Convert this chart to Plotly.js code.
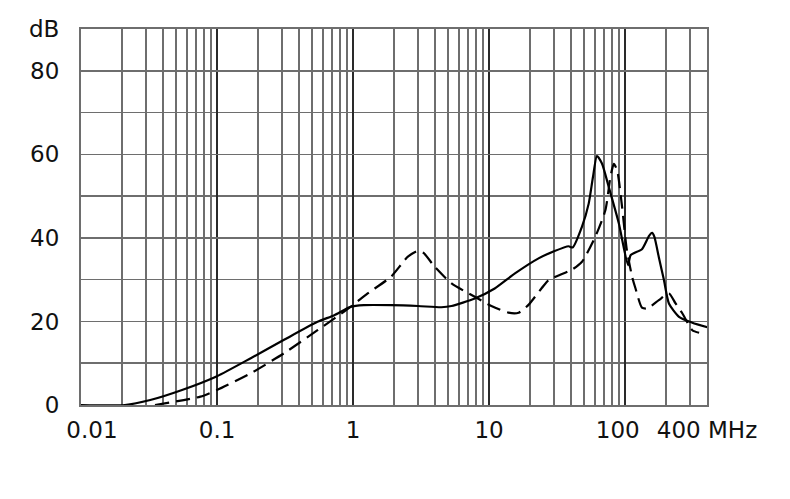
<!DOCTYPE html>
<html>
<head>
<meta charset="utf-8">
<script src="https://cdn.plot.ly/plotly-3.0.1.min.js"></script>
<style>html,body{margin:0;padding:0;background:#fff;} #chart{width:790px;height:499px;}</style>
</head>
<body>
<div id="chart"></div>
<script>
// Frequencies in MHz, attenuation in dB
const solidFreq = [0.01, 0.021, 0.0323, 0.0553, 0.1, 0.177, 0.311, 0.548, 0.728, 0.96, 1.2, 1.9, 3.0, 4.46, 5.3, 7.85, 11.0, 15.5, 23.1, 30, 38.4, 41.1, 48.2, 54, 58, 62.1, 67.6, 75.8, 89.9, 105, 110, 133, 150, 158, 164, 178, 193, 210, 249, 312, 403];
const solidDb   = [0, 0, 1.2, 3.6, 6.9, 11.2, 15.6, 19.9, 21.5, 23.5, 23.9, 23.9, 23.7, 23.4, 23.7, 25.5, 27.9, 31.5, 35.1, 36.8, 38.0, 37.7, 42.7, 48.2, 54.5, 59.6, 57.8, 52.2, 43.5, 33.5, 35.9, 37.3, 40.5, 41.2, 40.3, 35.0, 29.9, 24.3, 21.1, 19.7, 18.6];

const dashFreq = [0.035, 0.0755, 0.1, 0.177, 0.311, 0.548, 0.96, 1.28, 1.9, 2.53, 3.0, 3.3, 3.98, 5.3, 7.85, 10.4, 13.9, 16.5, 19.4, 24.4, 27.4, 41.1, 48.2, 60.4, 71.6, 78, 82.6, 87.4, 95, 103, 113, 119, 133, 145, 177, 210, 235, 264, 312, 350];
const dashDb   = [0, 2, 3.6, 7.6, 12.4, 17.9, 23.5, 26.7, 30.7, 35.5, 36.9, 36.4, 33.1, 29.1, 25.9, 23.7, 22.1, 22.1, 23.9, 28.0, 29.9, 32.5, 34.3, 40.3, 46.6, 54.6, 57.7, 56.2, 47.4, 37.1, 30.5, 28.0, 23.3, 23.1, 25.1, 26.7, 24.3, 21.9, 17.9, 17.3];

const xTickVals = [0.01, 0.1, 1, 10, 100, 400];
const xTickText = ['\u00a0\u00a0\u00a00.01', '0.1', '1', '10', '100\u00a0\u00a0', '400 MHz'];
const xMinorVals = [0.02,0.03,0.04,0.05,0.06,0.07,0.08,0.09, 0.2,0.3,0.4,0.5,0.6,0.7,0.8,0.9, 2,3,4,5,6,7,8,9, 20,30,40,50,60,70,80,90, 200,300];
const yTickVals = [0, 20, 40, 60, 80, 90];
const yTickText = ['0', '20', '40', '60', '80', 'dB'];
const yMinorVals = [10, 30, 50, 70];

const font = {family: '"DejaVu Sans", "Liberation Sans", Arial, sans-serif', size: 23, color: '#111'};

const traces = [
  {x: solidFreq, y: solidDb, type: 'scatter', mode: 'lines',
   line: {color: '#000', width: 2.2, shape: 'spline', smoothing: 0.6}, showlegend: false, hoverinfo: 'skip'},
  {x: dashFreq, y: dashDb, type: 'scatter', mode: 'lines',
   line: {color: '#000', width: 2.2, dash: '14px,7px', shape: 'spline', smoothing: 0.6}, showlegend: false, hoverinfo: 'skip'}
];

const layout = {
  width: 790, height: 499,
  margin: {l: 81, r: 83, t: 29, b: 94},
  paper_bgcolor: '#fff', plot_bgcolor: '#fff',
  font: font,
  xaxis: {
    type: 'log', range: [-2, Math.log10(400)],
    tickmode: 'array', tickvals: xTickVals, ticktext: xTickText,
    showgrid: true, gridcolor: '#2a2a2a', gridwidth: 2,
    minor: {tickmode: 'array', tickvals: xMinorVals, showgrid: true, gridcolor: '#6e6e6e', gridwidth: 1.6, ticks: ''},
    showline: true, mirror: true, linecolor: '#6e6e6e', linewidth: 2,
    ticks: '', ticklabelstandoff: 3, zeroline: false, tickfont: font
  },
  yaxis: {
    range: [0, 90],
    tickmode: 'array', tickvals: yTickVals, ticktext: yTickText,
    showgrid: true, gridcolor: '#6e6e6e', gridwidth: 1.6,
    minor: {tickmode: 'array', tickvals: yMinorVals, showgrid: true, gridcolor: '#6e6e6e', gridwidth: 1.6, ticks: ''},
    showline: true, mirror: true, linecolor: '#6e6e6e', linewidth: 2,
    ticks: '', ticklabelstandoff: 15, zeroline: false, tickfont: font
  }
};

Plotly.newPlot('chart', traces, layout, {displayModeBar: false, staticPlot: true});
</script>
</body>
</html>
